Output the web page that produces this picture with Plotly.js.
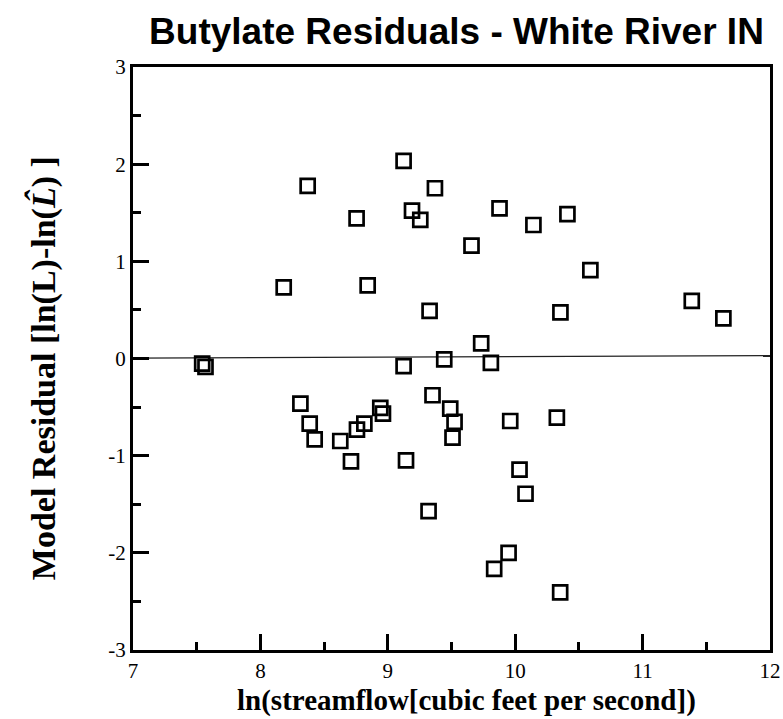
<!DOCTYPE html>
<html>
<head>
<meta charset="utf-8">
<script src="https://cdn.plot.ly/plotly-3.0.1.min.js"></script>
<style>html,body{margin:0;padding:0;background:#fff;}#chart{width:783px;height:719px;}</style>
</head>
<body>
<div id="chart"></div>
<script>
// ln(streamflow) values
const lnFlow = [
  9.124, 8.371, 9.370, 9.190, 9.255, 8.755, 9.657, 8.183, 8.842, 9.328,
  9.877, 10.143, 10.410, 10.590, 10.355, 11.386, 11.634, 9.733, 9.809, 7.543,
  7.569, 9.124, 9.443, 8.314, 8.387, 8.426, 8.627, 8.758, 8.816, 8.941,
  8.962, 8.711, 9.143, 9.351, 9.490, 9.524, 9.508, 9.320, 9.961, 10.327,
  10.034, 10.081, 9.948, 9.835, 10.353
];
// model residuals
const residual = [
  2.034, 1.776, 1.752, 1.522, 1.426, 1.443, 1.161, 0.732, 0.753, 0.491,
  1.546, 1.374, 1.485, 0.910, 0.474, 0.594, 0.412, 0.155, -0.045, -0.052,
  -0.087, -0.079, -0.010, -0.464, -0.670, -0.832, -0.849, -0.732, -0.670, -0.509,
  -0.567, -1.059, -1.048, -0.378, -0.516, -0.653, -0.815, -1.571, -0.643, -0.608,
  -1.144, -1.392, -2.000, -2.165, -2.406
];
// reference (trend) line endpoints
const lineX = [7, 12];
const lineY = [0.003, 0.03];
const xTicks = [7, 8, 9, 10, 11, 12];
const yTicks = [-3, -2, -1, 0, 1, 2, 3];

const serif = '"Liberation Serif", "Times New Roman", serif';
const traces = [
  {x: lineX, y: lineY, mode: 'lines', type: 'scatter',
   line: {color: '#222', width: 1.2}, hoverinfo: 'skip', showlegend: false},
  {x: lnFlow, y: residual, mode: 'markers', type: 'scatter',
   marker: {symbol: 'square-open', size: 14, color: '#000', line: {color: '#000', width: 2.7}},
   showlegend: false}
];
const axisCommon = {
  showgrid: false, zeroline: false, showline: true, mirror: true,
  linecolor: '#000', linewidth: 3, ticks: 'inside', ticklen: 16, tickwidth: 3,
  tickcolor: '#000', tickfont: {family: serif, size: 21, color: '#000'}
};
const layout = {
  width: 783, height: 719,
  margin: {l: 133, r: 13, t: 67, b: 69},
  paper_bgcolor: '#fff', plot_bgcolor: '#fff',
  title: {text: 'Butylate Residuals - White River IN',
          font: {family: '"Liberation Sans", Arial, sans-serif', size: 37, color: '#000', weight: 'bold'},
          x: 0.583, xref: 'container', xanchor: 'center', y: 1 - 31/719, yref: 'container', yanchor: 'middle'},
  xaxis: Object.assign({}, axisCommon, {
    range: [7, 12], tickvals: xTicks, ticktext: xTicks.map(String),
    minor: {dtick: 0.5, tick0: 7, ticks: 'inside', ticklen: 8, tickwidth: 3, tickcolor: '#000'}
  }),
  yaxis: Object.assign({}, axisCommon, {
    range: [-3, 3], tickvals: yTicks, ticktext: yTicks.map(String),
    minor: {dtick: 0.5, tick0: 0, ticks: 'inside', ticklen: 8, tickwidth: 3, tickcolor: '#000'}
  }),
  annotations: [
    {text: '<b>ln(streamflow[cubic feet per second])</b>', xref: 'paper', yref: 'paper',
     x: 0.5235, y: -0.0858, xanchor: 'center', yanchor: 'middle', showarrow: false,
     font: {family: serif, size: 29, color: '#000'}},
    {text: '<b>Model Residual [ln(L)-ln(<i>L̂</i>) ]</b>', xref: 'paper', yref: 'paper',
     x: -0.141, y: 0.4837, xanchor: 'center', yanchor: 'middle', textangle: -90, showarrow: false,
     font: {family: serif, size: 34, color: '#000'}}
  ]
};
Plotly.newPlot('chart', traces, layout, {displayModeBar: false, staticPlot: true});
</script>
</body>
</html>
